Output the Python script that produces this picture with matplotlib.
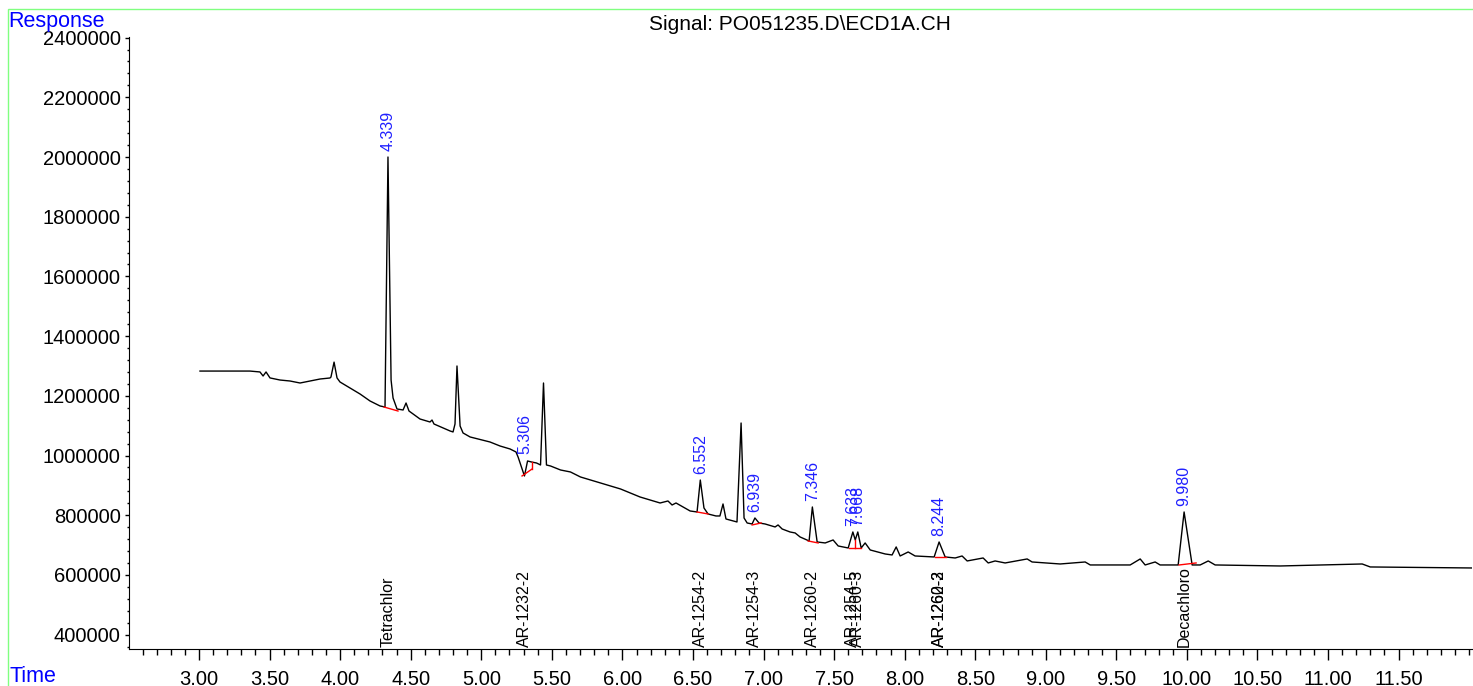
import numpy as np
import matplotlib
matplotlib.use('Agg')
import matplotlib.pyplot as plt
from matplotlib.patches import Rectangle
from matplotlib.ticker import MultipleLocator, FixedLocator

plt.rcParams['font.family'] = ['Liberation Sans', 'DejaVu Sans']

# chromatogram trace (time in min, response)
times = [3.007, 3.361, 3.432, 3.454, 3.475, 3.503, 3.574, 3.645, 3.716, 3.787,
         3.858, 3.928, 3.935, 3.957, 3.978, 3.999, 4.070, 4.141, 4.212, 4.283,
         4.318, 4.339, 4.361, 4.375, 4.403, 4.446, 4.467, 4.488, 4.566, 4.637,
         4.651, 4.665, 4.779, 4.800, 4.814, 4.828, 4.850, 4.871, 4.921, 5.062,
         5.133, 5.204, 5.246, 5.261, 5.306, 5.328, 5.356, 5.392, 5.420, 5.441,
         5.462, 5.491, 5.562, 5.632, 5.703, 5.845, 5.987, 6.125, 6.267, 6.323,
         6.352, 6.380, 6.480, 6.529, 6.552, 6.578, 6.607, 6.663, 6.691, 6.713,
         6.734, 6.812, 6.841, 6.862, 6.884, 6.919, 6.939, 6.968, 7.011, 7.082,
         7.103, 7.132, 7.188, 7.224, 7.259, 7.323, 7.346, 7.380, 7.437, 7.493,
         7.529, 7.600, 7.633, 7.650, 7.668, 7.692, 7.720, 7.756, 7.862, 7.911,
         7.940, 7.968, 8.025, 8.074, 8.209, 8.244, 8.287, 8.358, 8.407, 8.443,
         8.556, 8.592, 8.641, 8.712, 8.868, 8.903, 9.102, 9.279, 9.315, 9.598,
         9.669, 9.704, 9.775, 9.810, 9.938, 9.980, 10.037, 10.094, 10.151, 10.200,
         10.661, 11.242, 11.299, 12.021]
response = [1283000, 1283000, 1280000, 1266500, 1280000, 1260000, 1253000, 1249700, 1243000, 1249700,
            1256400, 1259800, 1263000, 1313000, 1260000, 1246400, 1226300, 1206200, 1182700, 1166000,
            1162600, 2000000, 1253000, 1192800, 1156000, 1152600, 1176000, 1149200, 1122400, 1112400,
            1119000, 1105700, 1082300, 1079000, 1105700, 1300000, 1099000, 1075600, 1062200, 1045400,
            1032000, 1022000, 1012000, 995000, 931600, 981800, 978400, 975000, 968400, 1243000,
            968400, 965000, 951600, 945000, 928200, 908100, 888000, 861200, 841100, 847800,
            834400, 841100, 814300, 811000, 918000, 824400, 804300, 797600, 797600, 837800,
            787500, 777500, 1109000, 790900, 774100, 770800, 790900, 774100, 770800, 760800,
            767500, 754000, 744000, 740700, 727300, 713900, 827700, 710500, 707200, 717200,
            697100, 690400, 744000, 717200, 744000, 690400, 707200, 683700, 670300, 667000,
            693800, 663600, 677000, 663600, 660300, 710500, 660300, 656900, 663600, 646900,
            656900, 640200, 646900, 640200, 653600, 643500, 636800, 643500, 633500, 633500,
            653600, 633500, 643500, 633500, 633500, 811000, 633500, 633500, 646900, 633500,
            630100, 636800, 626800, 623400]

# integrated peaks: retention time, response under the label, compound name(s)
peak_rt = [4.339, 5.306, 6.552, 6.939, 7.346, 7.633, 7.668, 8.244, 9.980]
peak_rt_label_y = [2000000, 985000, 918000, 790900, 827700, 744000, 744000, 710500, 811000]
compound_rt = [4.339, 5.306, 6.552, 6.939, 7.346, 7.633, 7.668, 8.244, 8.250, 9.980]
compound_names = ['Tetrachlor', 'AR-1232-2', 'AR-1254-2', 'AR-1254-3', 'AR-1260-2',
                  'AR-1254-5', 'AR-1260-3', 'AR-1260-2', 'AR-1262-3', 'Decachloro']

# red integration baselines (t0, r0, t1, r1)
baselines = [(4.311, 1162600, 4.410, 1149200),
             (5.289, 931600, 5.360, 955000),
             (5.360, 955000, 5.360, 978400),
             (6.529, 811000, 6.607, 804300),
             (6.919, 767500, 6.983, 774100),
             (7.316, 713900, 7.387, 707200),
             (7.607, 690400, 7.692, 690400),
             (7.650, 690400, 7.650, 717200),
             (8.216, 660300, 8.294, 660300),
             (9.945, 633500, 10.065, 640200)]

fig = plt.figure(figsize=(14.73, 6.86), dpi=100)
ax = fig.add_axes([129/1473, 37/686, 1343/1473, 612/686])

ax.plot(times, response, color='black', lw=1.0)
for t0, r0, t1, r1 in baselines:
    ax.plot([t0, t1], [r0, r1], color='red', lw=1.0)

for rt, top in zip(peak_rt, peak_rt_label_y):
    ax.annotate('%.3f' % rt, (rt, top), xytext=(0, 4), textcoords='offset points',
                rotation=90, ha='center', va='bottom', color='#2020ff', fontsize=11.5)

for rt, name in zip(compound_rt, compound_names):
    ax.text(rt, 360000, name, rotation=90, ha='center', va='bottom', fontsize=11.5)

ax.set_xlim(2.504, 12.02)
ax.set_ylim(352000, 2402000)

ax.xaxis.set_major_locator(FixedLocator(np.arange(3.0, 11.6, 0.5)))
ax.xaxis.set_minor_locator(FixedLocator(np.arange(2.6, 12.01, 0.1)))
ax.xaxis.set_major_formatter(matplotlib.ticker.FuncFormatter(lambda v, p: '%.2f' % v))
ax.yaxis.set_major_locator(MultipleLocator(200000))
ax.yaxis.set_minor_locator(MultipleLocator(40000))
ax.yaxis.set_major_formatter(matplotlib.ticker.FuncFormatter(lambda v, p: '%d' % v))

ax.tick_params(axis='x', which='major', length=8, width=1, pad=7, labelsize=14.5)
ax.tick_params(axis='x', which='minor', length=4.3, width=1)
ax.tick_params(axis='y', which='major', length=3, width=1, pad=3, labelsize=14.5)
ax.tick_params(axis='y', which='minor', length=1.5, width=1)

for s in ['top', 'right']:
    ax.spines[s].set_visible(False)

fig.text(800/1473, 1 - 25/686, 'Signal: PO051235.D\\ECD1A.CH', ha='center', va='center', fontsize=15)
fig.text(8/1473, 1 - 21/686, 'Response', ha='left', va='center', color='blue', fontsize=15.5)
fig.text(10/1473, 1 - 677/686, 'Time', ha='left', va='center', color='blue', fontsize=15.5)

fig.add_artist(Rectangle((8/1473, -0.05), 1.2, 1.05 - 9/686, transform=fig.transFigure,
                         fill=False, edgecolor='#80ff80', lw=1))

fig.savefig('out.png', dpi=100)
